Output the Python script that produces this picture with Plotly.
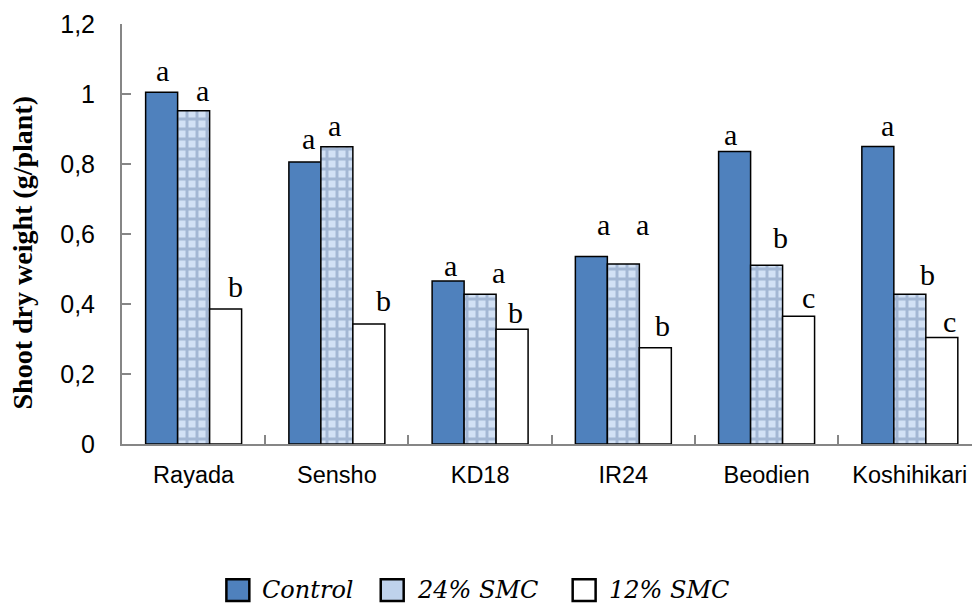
import plotly.graph_objects as go

# Shoot dry weight of six rice cultivars under three soil moisture regimes
cultivars = ["Rayada", "Sensho", "KD18", "IR24", "Beodien", "Koshihikari"]
control = [1.005, 0.806, 0.466, 0.536, 0.836, 0.850]
smc24 = [0.952, 0.849, 0.428, 0.514, 0.511, 0.428]
smc12 = [0.386, 0.343, 0.328, 0.275, 0.365, 0.304]
treatments = ["Control", "24% SMC", "12% SMC"]

# Significance letters per cultivar (Control, 24% SMC, 12% SMC)
letters_control = ["a", "a", "a", "a", "a", "a"]
letters_24 = ["a", "a", "a", "a", "b", "b"]
letters_12 = ["b", "b", "b", "b", "c", "c"]

# Letter placement: (x offset from category centre, y in data units)
pos_control = [(-0.219, 1.066), (-0.200, 0.874), (-0.209, 0.511),
                (-0.141, 0.626), (-0.255, 0.883), (-0.153, 0.911)]
pos_24 = [(0.060, 1.011), (-0.019, 0.911), (0.126, 0.489),
          (0.131, 0.626), (0.094, 0.589), (0.120, 0.483)]
pos_12 = [(0.291, 0.449), (0.323, 0.411), (0.244, 0.377),
          (0.270, 0.340), (0.290, 0.420), (0.280, 0.349)]

BLUE = "#4f81bd"
LIGHT = "#bfd2ec"
SERIF = "Liberation Serif, Times New Roman, serif"
SANS = "Liberation Sans, Arial, sans-serif"
LEGEND_FONT = "DejaVu Serif, serif"

fig = go.Figure()
fig.add_trace(go.Bar(x=cultivars, y=control, name=treatments[0], showlegend=False,
                     marker=dict(color=BLUE, line=dict(color="black", width=1.5))))
fig.add_trace(go.Bar(x=cultivars, y=smc24, name=treatments[1], showlegend=False,
                     marker=dict(color=LIGHT, line=dict(color="black", width=1.5),
                                 pattern=dict(shape="+", fgcolor="#a3b7d4", bgcolor="#d2e1f5",
                                              size=10, solidity=0.5, fillmode="replace"))))
fig.add_trace(go.Bar(x=cultivars, y=smc12, name=treatments[2], showlegend=False,
                     marker=dict(color="white", line=dict(color="black", width=1.5))))

annotations = []
for i in range(len(cultivars)):
    for letters, pos in ((letters_control, pos_control), (letters_24, pos_24), (letters_12, pos_12)):
        dx, yy = pos[i]
        annotations.append(dict(x=i + dx, y=yy, xref="x", yref="y", text=letters[i],
                                showarrow=False, xanchor="center", yanchor="middle",
                                font=dict(family=SERIF, size=30, color="black")))

# Y-axis title
annotations.append(dict(x=-0.117, y=0.455, xref="paper", yref="paper",
                        text="<b>Shoot dry weight (g/plant)</b>", textangle=-90,
                        showarrow=False, xanchor="center", yanchor="middle",
                        font=dict(family=SERIF, size=28, color="black")))

# Legend drawn below the plot: square swatch followed by italic label
shapes = []
swatch_x = [0.1228, 0.3044, 0.5302]   # swatch left edges (paper)
swatch_w = 0.0270                      # swatch width (paper)
legend_y = -0.348
swatch_h = 0.052
for name, col, x0 in zip(treatments, [BLUE, LIGHT, "white"], swatch_x):
    shapes.append(dict(type="rect", xref="paper", yref="paper",
                       x0=x0, x1=x0 + swatch_w, y0=legend_y - swatch_h / 2, y1=legend_y + swatch_h / 2,
                       fillcolor=col, line=dict(color="black", width=2.5)))
    annotations.append(dict(x=x0 + swatch_w + 0.013, y=legend_y, xref="paper", yref="paper",
                            text=name, showarrow=False, xanchor="left", yanchor="middle",
                            font=dict(family=LEGEND_FONT, size=24, color="black", style="italic")))

fig.update_layout(
    width=972, height=605,
    margin=dict(l=122, r=0, t=24, b=161, autoexpand=False),
    paper_bgcolor="white", plot_bgcolor="white",
    barmode="group", bargap=0.33, bargroupgap=0,
    separators=",.",
    showlegend=False,
    annotations=annotations,
    shapes=shapes,
    xaxis=dict(type="category", range=[-0.5, 5.434], showline=True, linecolor="#868686",
               linewidth=2, ticks="inside", tickson="boundaries", ticklen=9,
               tickcolor="#868686", tickwidth=1.5, showgrid=False, zeroline=False,
               tickfont=dict(family=SANS, size=23.5, color="black"), ticklabelstandoff=9),
    yaxis=dict(range=[0, 1.2], dtick=0.2, showline=True, linecolor="#868686",
               linewidth=2, ticks="inside", ticklen=9, tickcolor="#868686", tickwidth=1.5,
               showgrid=False, zeroline=False,
               tickfont=dict(family=SANS, size=25, color="black"), ticklabelstandoff=20),
)

fig.write_html("out.html")
